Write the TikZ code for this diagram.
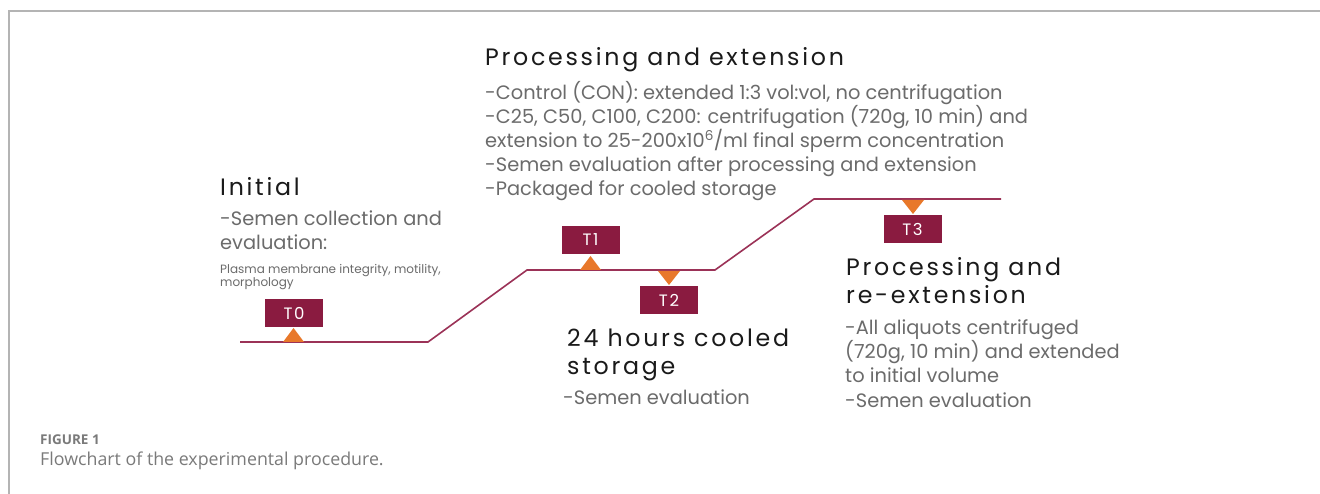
\documentclass[tikz,border=0pt]{standalone}
\usepackage{fontspec}
\setmainfont{Poppins}
\newfontfamily\headfont[LetterSpace=11.5]{Poppins}
\newfontfamily\boxfont[LetterSpace=10]{Poppins}
\newfontfamily\capfont{Open Sans}
\usetikzlibrary{calc}
\definecolor{boxred}{HTML}{8A1B40}
\definecolor{stepline}{HTML}{9B3257}
\definecolor{marker}{HTML}{E8782A}
\definecolor{bodygray}{HTML}{6B6B6B}
\definecolor{headblack}{HTML}{1A1A1A}
\definecolor{framegray}{HTML}{B4B4B4}
\definecolor{capgray}{HTML}{7A7A7A}
\tikzset{
  tbox/.style={fill=boxred, text=white, minimum width=58pt, minimum height=28pt,
    inner sep=0pt, font=\boxfont\fontsize{16.5}{16.5}\selectfont},
  heading/.style={anchor=base west, inner sep=0pt, align=left, text=headblack,
    font=\headfont\fontsize{23.7}{28}\selectfont},
  bodytext/.style={anchor=base west, inner sep=0pt, align=left, text=bodygray,
    font=\fontsize{19.4}{24.2}\selectfont},
  smalltext/.style={anchor=base west, inner sep=0pt, align=left, text=bodygray,
    font=\fontsize{12}{13.5}\selectfont},
  upmark/.style={fill=marker},
}
\begin{document}
\begin{tikzpicture}[x=1pt, y=-1pt]
\useasboundingbox (0,0) rectangle (1320,494);
\fill[white] (0,0) rectangle (1320,494);
% page frame
\draw[framegray, line width=2pt] (9,494) -- (9,11) -- (1320,11);

% stepped time line
\coordinate (s0) at (240,342);
\coordinate (s1) at (428,342);
\coordinate (s2) at (527,270);
\coordinate (s3) at (715,270);
\coordinate (s4) at (814,199);
\coordinate (s5) at (1001,199);
\draw[stepline, line width=1.6pt] (s0) -- (s1) -- (s2) -- (s3) -- (s4) -- (s5);

% sampling points
\node[tbox] (T0) at (294,313) {T0};
\node[tbox] (T1) at (590.5,240) {T1};
\node[tbox] (T2) at (669,300.5) {T2};
\node[tbox] (T3) at (912.5,229.5) {T3};

\coordinate (m0) at (293.5,342);
\coordinate (m1) at (590.5,270);
\coordinate (m2) at (669,271);
\coordinate (m3) at (913,200);
\fill[upmark] ($(m0)+(-10.5,0)$) -- ++(21,0) -- ++(-10.5,-14) -- cycle;
\fill[upmark] ($(m1)+(-10.5,0)$) -- ++(21,0) -- ++(-10.5,-14) -- cycle;
\fill[upmark] ($(m2)+(-11,0)$) -- ++(22,0) -- ++(-11,14) -- cycle;
\fill[upmark] ($(m3)+(-11,0)$) -- ++(22,0) -- ++(-11,14) -- cycle;

% stage descriptions (anchored at the baseline of their last line)
\node[heading] (h0) at (220,196) {Initial};
\node[bodytext] (b0) at (220,250) {-Semen collection and\\evaluation:};
\node[smalltext] (c0) at (220,287) {Plasma membrane integrity, motility,\\morphology};

\node[heading] (h1) at (485,66) {Processing and extension};
\node[bodytext] (b1) at (485,196) {-Control (CON): extended 1:3 vol:vol, no centrifugation\\
-C25, C50, C100, C200: centrifugation (720g, 10 min) and\\
extension to 25-200x10\textsuperscript{6}/ml final sperm concentration\\
-Semen evaluation after processing and extension\\
-Packaged for cooled storage};

\node[heading] (h2) at (567,374) {24 hours cooled\\storage};
\node[bodytext] (b2) at (563,404) {-Semen evaluation};

\node[heading] (h3) at (846,304) {Processing and\\re-extension};
\node[bodytext] (b3) at (845,407) {-All aliquots centrifuged\\(720g, 10 min) and extended\\to initial volume\\-Semen evaluation};

% caption
\node[anchor=base west, inner sep=0pt, text=capgray, font=\capfont\bfseries\fontsize{13.5}{13.5}\selectfont] (fig) at (40,444) {FIGURE 1};
\node[anchor=base west, inner sep=0pt, text=capgray, font=\capfont\fontsize{17.8}{17.8}\selectfont] (cap) at (40,465) {Flowchart of the experimental procedure.};
\end{tikzpicture}
\end{document}
